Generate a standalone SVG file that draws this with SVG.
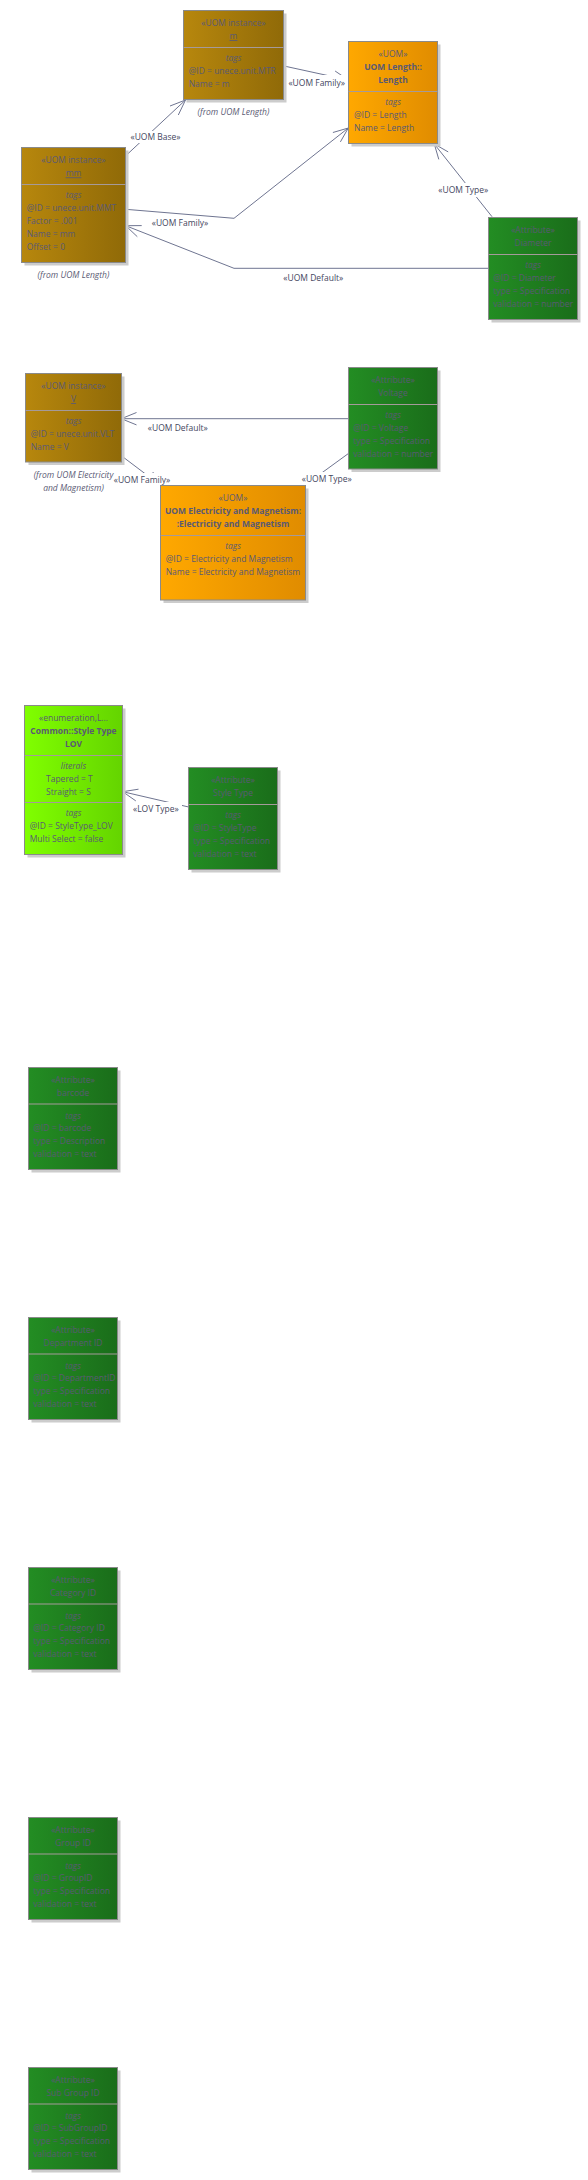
<svg xmlns="http://www.w3.org/2000/svg" width="588" height="2180" viewBox="0 0 588 2180">
<defs>
<linearGradient id="gBrown" x1="0" y1="0" x2="1" y2="0"><stop offset="0" stop-color="#b7870d"/><stop offset="1" stop-color="#906a08"/></linearGradient>
<linearGradient id="gOrange" x1="0" y1="0" x2="1" y2="0"><stop offset="0" stop-color="#ffa800"/><stop offset="1" stop-color="#e08c00"/></linearGradient>
<linearGradient id="gGreen" x1="0" y1="0" x2="1" y2="0"><stop offset="0" stop-color="#238d23"/><stop offset="1" stop-color="#1a6d1a"/></linearGradient>
<linearGradient id="gLime" x1="0" y1="0" x2="1" y2="0"><stop offset="0" stop-color="#80ff00"/><stop offset="1" stop-color="#64d400"/></linearGradient>
</defs>
<style>
.box{stroke:#8a8a8a;stroke-width:1}
.sh{fill:#cccccc}
.dv{stroke:#a59a9a;stroke-width:1}
text{font-family:"Open Sans","Noto Sans",sans-serif;font-size:8.5px;fill:#5a5a74}
.c{text-anchor:middle}
.b{font-weight:bold}
.i{font-style:italic}
.u{text-decoration:underline}
.conn{fill:none;stroke:#6f7591;stroke-width:1}
.lbl{fill:#44465e;text-anchor:middle}
.lb{fill:#ffffff}
</style>

<g id="connectors">
  <!-- UOM Base: mm -> m -->
  <path class="conn" d="M126,155.5 L185.5,100 M170,106 L185.5,100 L178.3,115"/>
  <!-- UOM Family: m -> Length -->
  <path class="conn" d="M284,66 L348.3,80 M335.1,71 L348.3,80 L332.5,82.7"/>
  <!-- UOM Family: mm -> Length -->
  <path class="conn" d="M125.7,209.3 L234,218.3 L348.3,128 M340.4,141.9 L348.3,128 L332.9,132.5"/>
  <!-- UOM Default: Diameter -> mm -->
  <path class="conn" d="M488.7,268.3 L234,268.3 L125.7,225.7 M141.7,225.6 L125.7,225.7 L137.3,236.7"/>
  <!-- UOM Type: Diameter -> Length -->
  <path class="conn" d="M492,216.7 L434.3,144 M448.2,151.9 L434.3,144 L438.8,159.4"/>
  <!-- UOM Default: Voltage -> V -->
  <path class="conn" d="M348.7,418.7 L121.3,418.7 M136.5,412.5 L121.3,418.7 L136.5,424.9"/>
  <!-- UOM Family: V -> E&M -->
  <path class="conn" d="M121.7,456 L161,485.7 M145.5,481.6 L161,485.7 L152.8,472"/>
  <!-- UOM Type: Voltage -> E&M -->
  <path class="conn" d="M348.7,453.3 L304.2,485.7 M312.7,472.1 L304.2,485.7 L319.7,481.8"/>
  <!-- LOV Type: Style Type -> LOV -->
  <path class="conn" d="M188.7,807 L122.7,791.7 M138.5,789.2 L122.7,791.7 L135.8,800.9"/>

  <rect class="lb" x="129" y="131" width="53" height="12"/>
  <text class="lbl" x="155.5" y="140">«UOM Base»</text>
  <rect class="lb" x="285" y="75" width="63" height="14"/>
  <text class="lbl" x="316.7" y="85.7">«UOM Family»</text>
  <text class="lbl" x="180" y="226">«UOM Family»</text>
  <text class="lbl" x="313.3" y="280.7">«UOM Default»</text>
  <rect class="lb" x="436" y="183" width="55" height="14"/>
  <text class="lbl" x="463.3" y="193">«UOM Type»</text>
  <text class="lbl" x="177.8" y="431">«UOM Default»</text>
  <rect class="lb" x="111" y="473" width="62" height="14"/>
  <text class="lbl" x="142" y="483">«UOM Family»</text>
  <rect class="lb" x="299" y="472" width="56" height="14"/>
  <text class="lbl" x="326.7" y="482">«UOM Type»</text>
  <rect class="lb" x="130" y="802" width="52" height="14"/>
  <text class="lbl" x="155.8" y="812">«LOV Type»</text>
</g>

<g id="node-m">
  <rect class="sh" x="186.5" y="13.5" width="100" height="89"/>
  <rect class="box" x="183.5" y="10.5" width="100" height="89" fill="url(#gBrown)"/>
  <line class="dv" x1="183.5" y1="47.5" x2="283.5" y2="47.5"/>
  <text class="c" x="233.5" y="26">«UOM instance»</text>
  <text class="c u" x="233.5" y="39">m</text>
  <text class="c i" x="233.5" y="60.7">tags</text>
  <text x="188.7" y="74">@ID = unece.unit.MTR</text>
  <text x="188.7" y="87">Name = m</text>
  <text class="c i" x="233.5" y="115">(from UOM Length)</text>
</g>

<g id="node-mm">
  <rect class="sh" x="24.5" y="150.5" width="104" height="115"/>
  <rect class="box" x="21.5" y="147.5" width="104" height="115" fill="url(#gBrown)"/>
  <line class="dv" x1="21.5" y1="184.5" x2="125.5" y2="184.5"/>
  <text class="c" x="73.5" y="163">«UOM instance»</text>
  <text class="c u" x="73.5" y="176.3">mm</text>
  <text class="c i" x="73.5" y="198">tags</text>
  <text x="26.7" y="211.3">@ID = unece.unit.MMT</text>
  <text x="26.7" y="224">Factor = .001</text>
  <text x="26.7" y="237">Name = mm</text>
  <text x="26.7" y="250">Offset = 0</text>
  <text class="c i" x="73.5" y="278">(from UOM Length)</text>
</g>

<g id="node-length">
  <rect class="sh" x="351.5" y="44.5" width="89" height="102"/>
  <rect class="box" x="348.5" y="41.5" width="89" height="102" fill="url(#gOrange)"/>
  <line class="dv" x1="348.5" y1="91.5" x2="437.5" y2="91.5"/>
  <text class="c" x="393" y="57">«UOM»</text>
  <text class="c b" x="393" y="70">UOM Length::</text>
  <text class="c b" x="393" y="83">Length</text>
  <text class="c i" x="393" y="104.7">tags</text>
  <text x="354" y="118">@ID = Length</text>
  <text x="354" y="131">Name = Length</text>
</g>

<g id="node-diameter">
  <rect class="sh" x="491.5" y="220.5" width="89" height="102"/>
  <rect class="box" x="488.5" y="217.5" width="89" height="102" fill="url(#gGreen)"/>
  <line class="dv" x1="488.5" y1="254.5" x2="577.5" y2="254.5"/>
  <text class="c" x="533" y="233">«Attribute»</text>
  <text class="c" x="533" y="245.7">Diameter</text>
  <text class="c i" x="533" y="268">tags</text>
  <text x="493.3" y="280.7">@ID = Diameter</text>
  <text x="493.3" y="294">type = Specification</text>
  <text x="493.3" y="307">validation = number</text>
</g>

<g id="node-V">
  <rect class="sh" x="28.5" y="376.5" width="96" height="88.5"/>
  <rect class="box" x="25.5" y="373.5" width="96" height="88.5" fill="url(#gBrown)"/>
  <line class="dv" x1="25.5" y1="410.5" x2="121.5" y2="410.5"/>
  <text class="c" x="73.5" y="388.7">«UOM instance»</text>
  <text class="c u" x="73.5" y="402">V</text>
  <text class="c i" x="73.5" y="424">tags</text>
  <text x="30.7" y="437">@ID = unece.unit.VLT</text>
  <text x="30.7" y="450">Name = V</text>
  <text class="c i" x="73.5" y="478.3">(from UOM Electricity</text>
  <text class="c i" x="73.5" y="490.7">and Magnetism)</text>
</g>

<g id="node-electricity">
  <rect class="sh" x="163.5" y="488.5" width="145" height="114.5"/>
  <rect class="box" x="160.5" y="485.5" width="145" height="114.5" fill="url(#gOrange)"/>
  <line class="dv" x1="160.5" y1="535.5" x2="305.5" y2="535.5"/>
  <text class="c" x="233" y="500.7">«UOM»</text>
  <text class="c b" x="233" y="513.7">UOM Electricity and Magnetism:</text>
  <text class="c b" x="233" y="526.7">:Electricity and Magnetism</text>
  <text class="c i" x="233" y="549">tags</text>
  <text x="165.7" y="562">@ID = Electricity and Magnetism</text>
  <text x="165.7" y="575">Name = Electricity and Magnetism</text>
</g>

<g id="node-voltage">
  <rect class="sh" x="351.5" y="370.5" width="89" height="101.5"/>
  <rect class="box" x="348.5" y="367.5" width="89" height="101.5" fill="url(#gGreen)"/>
  <line class="dv" x1="348.5" y1="404.5" x2="437.5" y2="404.5"/>
  <text class="c" x="393" y="383">«Attribute»</text>
  <text class="c" x="393" y="395.7">Voltage</text>
  <text class="c i" x="393" y="418">tags</text>
  <text x="353.3" y="431">@ID = Voltage</text>
  <text x="353.3" y="443.7">type = Specification</text>
  <text x="353.3" y="456.7">validation = number</text>
</g>

<g id="node-styletype-lov">
  <rect class="sh" x="27.5" y="708.5" width="98" height="149"/>
  <rect class="box" x="24.5" y="705.5" width="98" height="149" fill="url(#gLime)"/>
  <line class="dv" x1="24.5" y1="755.5" x2="122.5" y2="755.5"/>
  <line class="dv" x1="24.5" y1="802.5" x2="122.5" y2="802.5"/>
  <text class="c" x="73.5" y="721.3">«enumeration,L...</text>
  <text class="c b" x="73.5" y="734.3">Common::Style Type</text>
  <text class="c b" x="73.5" y="747">LOV</text>
  <text class="c i" x="73.5" y="769">literals</text>
  <text x="46" y="782.3">Tapered = T</text>
  <text x="46" y="795.3">Straight = S</text>
  <text class="c i" x="73.5" y="816">tags</text>
  <text x="29.7" y="829">@ID = StyleType_LOV</text>
  <text x="29.7" y="841.7">Multi Select = false</text>
</g>

<g id="node-styletype">
  <rect class="sh" x="191.5" y="770.5" width="89" height="102"/>
  <rect class="box" x="188.5" y="767.5" width="89" height="102" fill="url(#gGreen)"/>
  <line class="dv" x1="188.5" y1="804.5" x2="277.5" y2="804.5"/>
  <text class="c" x="233" y="783">«Attribute»</text>
  <text class="c" x="233" y="796">Style Type</text>
  <text class="c i" x="233" y="818">tags</text>
  <text x="193.3" y="830.7">@ID = StyleType</text>
  <text x="193.3" y="844">type = Specification</text>
  <text x="193.3" y="857">validation = text</text>
</g>

<g id="node-barcode">
  <rect class="sh" x="31.5" y="1070.5" width="89" height="102"/>
  <rect class="box" x="28.5" y="1067.5" width="89" height="102" fill="url(#gGreen)"/>
  <line class="dv" x1="28.5" y1="1104" x2="117.5" y2="1104"/>
  <text class="c" x="73" y="1083">«Attribute»</text>
  <text class="c" x="73" y="1095.5">barcode</text>
  <text class="c i" x="73" y="1118.5">tags</text>
  <text x="33.3" y="1131.2">@ID = barcode</text>
  <text x="33.3" y="1144.2">type = Description</text>
  <text x="33.3" y="1157.2">validation = text</text>
</g>

<g id="node-departmentid">
  <rect class="sh" x="31.5" y="1320.5" width="89" height="102"/>
  <rect class="box" x="28.5" y="1317.5" width="89" height="102" fill="url(#gGreen)"/>
  <line class="dv" x1="28.5" y1="1354" x2="117.5" y2="1354"/>
  <text class="c" x="73" y="1333">«Attribute»</text>
  <text class="c" x="73" y="1345.5">Department ID</text>
  <text class="c i" x="73" y="1368.5">tags</text>
  <text x="33.3" y="1381.2">@ID = DepartmentID</text>
  <text x="33.3" y="1394.2">type = Specification</text>
  <text x="33.3" y="1407.2">validation = text</text>
</g>

<g id="node-categoryid">
  <rect class="sh" x="31.5" y="1570.5" width="89" height="102"/>
  <rect class="box" x="28.5" y="1567.5" width="89" height="102" fill="url(#gGreen)"/>
  <line class="dv" x1="28.5" y1="1604" x2="117.5" y2="1604"/>
  <text class="c" x="73" y="1583">«Attribute»</text>
  <text class="c" x="73" y="1595.5">Category ID</text>
  <text class="c i" x="73" y="1618.5">tags</text>
  <text x="33.3" y="1631.2">@ID = Category ID</text>
  <text x="33.3" y="1644.2">type = Specification</text>
  <text x="33.3" y="1657.2">validation = text</text>
</g>

<g id="node-groupid">
  <rect class="sh" x="31.5" y="1820.5" width="89" height="102"/>
  <rect class="box" x="28.5" y="1817.5" width="89" height="102" fill="url(#gGreen)"/>
  <line class="dv" x1="28.5" y1="1854" x2="117.5" y2="1854"/>
  <text class="c" x="73" y="1833">«Attribute»</text>
  <text class="c" x="73" y="1845.5">Group ID</text>
  <text class="c i" x="73" y="1868.5">tags</text>
  <text x="33.3" y="1881.2">@ID = GroupID</text>
  <text x="33.3" y="1894.2">type = Specification</text>
  <text x="33.3" y="1907.2">validation = text</text>
</g>

<g id="node-subgroupid">
  <rect class="sh" x="31.5" y="2070.5" width="89" height="102"/>
  <rect class="box" x="28.5" y="2067.5" width="89" height="102" fill="url(#gGreen)"/>
  <line class="dv" x1="28.5" y1="2104" x2="117.5" y2="2104"/>
  <text class="c" x="73" y="2083">«Attribute»</text>
  <text class="c" x="73" y="2095.5">Sub Group ID</text>
  <text class="c i" x="73" y="2118.5">tags</text>
  <text x="33.3" y="2131.2">@ID = SubGroupID</text>
  <text x="33.3" y="2144.2">type = Specification</text>
  <text x="33.3" y="2157.2">validation = text</text>
</g>
</svg>
